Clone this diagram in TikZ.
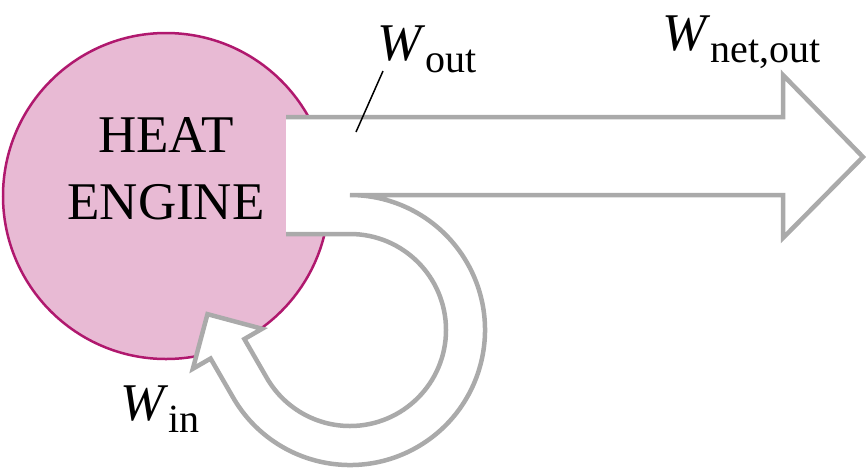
\documentclass[tikz,border=0pt]{standalone}
\usepackage{fontspec}
\setmainfont{Liberation Serif}
\usetikzlibrary{positioning}

\definecolor{enginepink}{RGB}{232,186,212}
\definecolor{engineedge}{RGB}{176,24,110}
\definecolor{flowgray}{RGB}{170,170,170}

\newcommand{\wlabel}[1]{\textit{W}\raisebox{-12pt}{\fontsize{40}{40}\selectfont #1}}

\begin{document}
\begin{tikzpicture}[
    x=1pt, y=1pt,
    engine/.style={fill=enginepink, draw=engineedge, line width=2.5pt},
    flow/.style={fill=white, draw=flowgray, line width=4.5pt, line join=miter},
    label/.style={font=\fontsize{53}{67}\selectfont, inner sep=0pt}
]

% Frame
\useasboundingbox (0,0) rectangle (866,-472);

% Heat engine
\draw[engine] (166,-196) circle (163);
\node[label, align=center] (engine) at (166,-169) {HEAT\\ENGINE};

% Work arrow, open on the engine side
\draw[flow] (286,-234) -- (350,-234)
    arc[start angle=90, end angle=-150, radius=96]
    -- ++(120:45) -- ++(30:20.5) -- ++(165:56.57) -- ++(255:56.57)
    -- ++(30:20.5) -- ++(-60:45)
    arc[start angle=-150, end angle=90, radius=135]
    -- (783,-195) -- (783,-238) -- (863,-157) -- (783,-75) -- (783,-117)
    -- (286,-117);

% Labels
\node[label, anchor=base west] (wout) at (377,-60) {\wlabel{out}};
\node[label, anchor=base west] (wnet) at (662,-50) {\wlabel{net,out}};
\node[label, anchor=base west] (win) at (120,-420) {\wlabel{in}};

% Leader for W_out
\coordinate (woutfoot) at (356,-132);
\draw[line width=1.5pt] ([shift={(6,-11)}]wout.base west) -- (woutfoot);

\end{tikzpicture}
\end{document}
